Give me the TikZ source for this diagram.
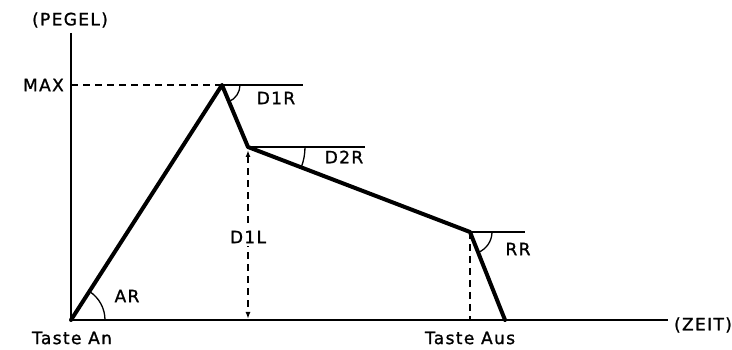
\documentclass[tikz,border=0pt]{standalone}
\usepackage{fontspec}
\setmainfont{DejaVu Sans}[LetterSpace=8,FakeBold=1.2]
\usetikzlibrary{arrows.meta}
\begin{document}
\begin{tikzpicture}[x=1pt,y=1pt,
  env/.style={line width=4pt,line join=round,line cap=round},
  axis/.style={line width=2.5pt},
  refl/.style={line width=1.3pt},
  dsh/.style={line width=1.8pt,dash pattern=on 7pt off 5pt},
  lbl/.style={inner sep=1pt,font=\fontsize{17}{20}\selectfont}]
\useasboundingbox (0,0) rectangle (732,350);
% key points
\coordinate (O) at (71,30);
\coordinate (P) at (222,265);
\coordinate (S1) at (248,203);
\coordinate (S2) at (470,118);
\coordinate (E) at (505,30);
\coordinate (Ytop) at (71,317);
\coordinate (Xend) at (668,30);
\coordinate (Pref) at (303,265);
\coordinate (S1ref) at (365,203);
\coordinate (S2ref) at (525,118);
\coordinate (MaxY) at (71,265);
\coordinate (S1base) at (248,30);
\coordinate (S2base) at (470,30);
% axes
\draw[axis] (Ytop) -- (O) -- (Xend);
% reference lines
\draw[dsh] (MaxY) -- (P);
\draw[refl] (P) -- (Pref);
\draw[refl] (S1) -- (S1ref);
\draw[refl] (S2) -- (S2ref);
\draw[dsh] (S2) -- (S2base);
% angle arcs
\draw[refl] ([xshift=34pt]O) arc[start angle=0,end angle=57.3,radius=34];
\draw[refl] ([xshift=18pt]P) arc[start angle=0,end angle=-67.2,radius=18];
\draw[refl] ([xshift=57pt]S1) arc[start angle=0,end angle=-20.9,radius=57];
\draw[refl] ([xshift=22pt]S2) arc[start angle=0,end angle=-68.3,radius=22];
% D1L arrow
\draw[dsh,{Latex[length=7pt,width=5pt]}-{Latex[length=7pt,width=5pt]}] ([yshift=-3pt]S1) -- ([yshift=1pt]S1base);
% envelope
\draw[env] (O) -- (P) -- (S1) -- (S2) -- (E);
% labels
\node[lbl] (pegel) at (70,330) {(PEGEL)};
\node[lbl,anchor=east] (max) at (65,265) {MAX};
\node[lbl] (d1r) at (276,252) {D1R};
\node[lbl] (d2r) at (344,193) {D2R};
\node[lbl] (rr) at (518,101) {RR};
\node[lbl] (ar) at (127,54) {AR};
\node[lbl,fill=white,inner ysep=3pt] (d1l) at (248,113) {D1L};
\node[lbl] (an) at (72,12) {Taste An};
\node[lbl] (aus) at (470,12) {Taste Aus};
\node[lbl] (zeit) at (703,25) {(ZEIT)};
\end{tikzpicture}
\end{document}
